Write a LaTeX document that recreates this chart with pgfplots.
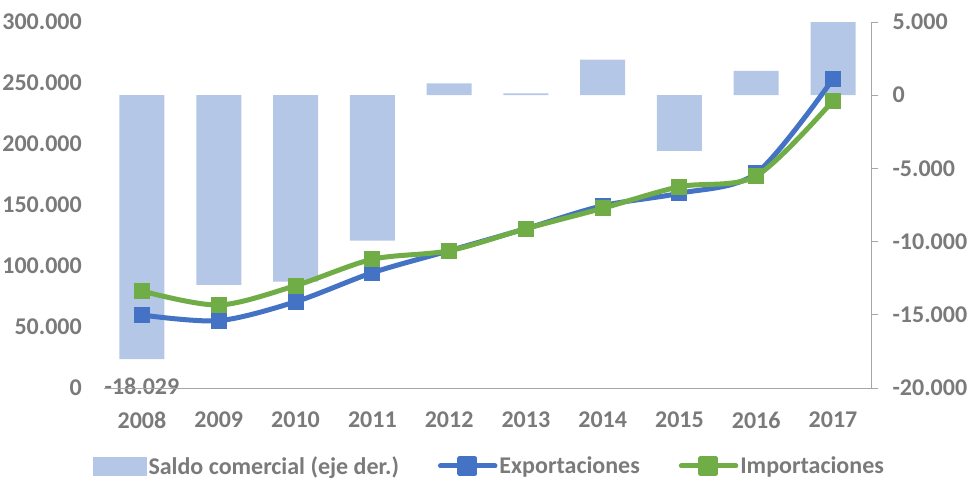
\documentclass[border=0pt]{standalone}
\usepackage{pgfplots}
\pgfplotsset{compat=1.18}
\usepackage{fontspec}
\setmainfont{Carlito}
\definecolor{barblue}{HTML}{B4C7E7}
\definecolor{expblue}{HTML}{4472C4}
\definecolor{impgreen}{HTML}{70AD47}
\definecolor{txtgray}{HTML}{7A7A7A}
\definecolor{axgray}{HTML}{A6A6A6}
\begin{document}
\begin{tikzpicture}
\path[use as bounding box] (-103.6pt,-95pt) rectangle (874.4pt,388pt);
\pgfplotsset{
  common/.style={
    scale only axis, width=767.8pt, height=366pt,
    xmin=-0.5, xmax=9.5, at={(0pt,0pt)}, anchor=south west,
    scaled y ticks=false,
    tick label style={font=\fontsize{24}{28}\selectfont\bfseries, text=txtgray},
    /pgf/number format/assume math mode=true,
    /pgf/number format/fixed,
    /pgf/number format/1000 sep={.},
  }
}
% Bars: right axis
\begin{axis}[common,
  axis x line=none,
  axis y line*=right,
  y axis line style={axgray, line width=0.9pt},
  ymin=-20000, ymax=5000,
  ytick={-20000,-15000,...,5000},
  ytick style={axgray, line width=0.9pt},
  tick align=outside, major tick length=7pt,
  yticklabel style={inner sep=0pt, anchor=west, xshift=14pt},
  clip=false,
]
\addplot[ybar, bar width=45pt, bar shift=0pt, fill=barblue, draw=none,
  point meta=explicit symbolic,
  nodes near coords,
  every node near coord/.append style={anchor=center, yshift=-27pt,
     font=\fontsize{24}{28}\selectfont\bfseries, text=txtgray},
] coordinates {
  (0,-18029) [-18.029]
  (1,-12960) []
  (2,-12735) []
  (3,-9940) []
  (4,800) []
  (5,130) []
  (6,2430) []
  (7,-3800) []
  (8,1660) []
  (9,5000) []
};
\end{axis}
% Lines: left axis
\begin{axis}[common,
  axis x line*=bottom,
  x axis line style={axgray, line width=0.9pt},
  axis y line*=left,
  y axis line style={draw=none},
  ymin=0, ymax=300000,
  ytick={0,50000,...,300000},
  xtick={0,...,9},
  xticklabels={2008,2009,2010,2011,2012,2013,2014,2015,2016,2017},
  major tick length=0pt,
  xtick style={draw=none}, ytick style={draw=none},
  xticklabel style={inner sep=0pt, anchor=north, yshift=-24pt},
  yticklabel style={inner sep=0pt, anchor=east, xshift=-21.6pt},
  clip=false,
  legend columns=3,
  legend style={draw=none, fill=none, at={(0.5026,-0.213)}, anchor=center,
    font=\fontsize{24}{28}\selectfont\bfseries, text=txtgray,
    /tikz/every even column/.append style={column sep=37pt},
    cells={anchor=west}},
]
\addlegendimage{legend image code/.code={\fill[barblue] (0pt,-9pt) rectangle (53pt,9pt);}}
\addlegendentry{Saldo comercial (eje der.)}
\addplot[expblue, line width=5pt, line cap=round, line join=round, smooth, mark=square*,
  mark options={solid, fill=expblue, draw=expblue, line width=0pt}, mark size=7.5pt,
  legend image code/.code={\draw[expblue, line width=5pt, line cap=round] (2.5pt,0pt) -- (57pt,0pt);
     \fill[expblue] (22pt,-7.5pt) rectangle (37pt,7.5pt);}]
coordinates {
  (0,59840) (1,55200) (2,70700) (3,94500) (4,112500)
  (5,130600) (6,149400) (7,159600) (8,176000) (9,253300)
};
\addlegendentry{Exportaciones}
\addplot[impgreen, line width=5pt, line cap=round, line join=round, smooth, mark=square*,
  mark options={solid, fill=impgreen, draw=impgreen, line width=0pt}, mark size=7.5pt,
  legend image code/.code={\draw[impgreen, line width=5pt, line cap=round] (2.5pt,0pt) -- (57pt,0pt);
     \fill[impgreen] (22pt,-7.5pt) rectangle (37pt,7.5pt);}]
coordinates {
  (0,79500) (1,68000) (2,83900) (3,105500) (4,112500)
  (5,130600) (6,147300) (7,165000) (8,173800) (9,235500)
};
\addlegendentry{Importaciones}
\end{axis}
\end{tikzpicture}
\end{document}
